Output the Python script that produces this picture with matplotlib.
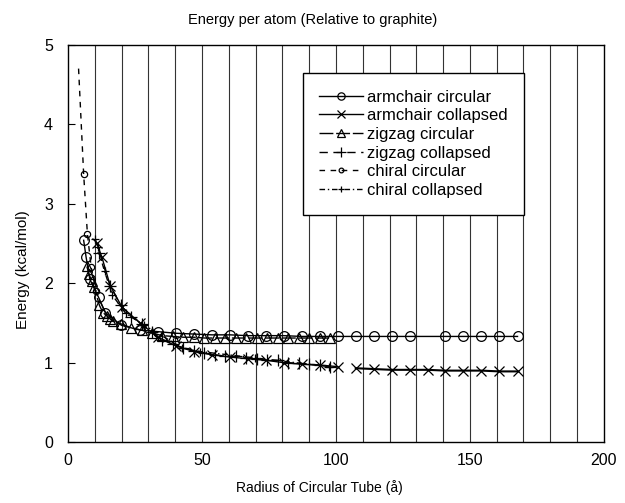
import numpy as np
import matplotlib
matplotlib.use('Agg')
import matplotlib.pyplot as plt

plt.rcParams['font.family'] = ['Liberation Sans', 'DejaVu Sans']

# armchair circular
ac_x = [5.8, 6.7, 8.1, 11.4, 13.9, 19.9, 26.8, 33.6, 40.3, 47.0, 53.7, 60.4, 67.1, 73.8,
        80.5, 87.2, 93.9, 100.7, 107.4, 114.1, 120.8, 127.5, 140.9, 147.6, 154.3, 161.0, 167.8]
ac_y = [2.54, 2.33, 2.05, 1.82, 1.63, 1.47, 1.41, 1.39, 1.37, 1.36, 1.35, 1.35, 1.34, 1.34,
        1.34, 1.33, 1.33, 1.33, 1.33, 1.33, 1.33, 1.33, 1.33, 1.33, 1.33, 1.33, 1.33]

# armchair collapsed
acol_x = [10.7, 12.6, 15.7, 20.1, 26.8, 33.6, 40.3, 47.0, 53.7, 60.4, 67.1, 73.8, 80.5,
          87.2, 93.9, 100.7]
acol_y = [2.50, 2.33, 1.97, 1.70, 1.50, 1.32, 1.21, 1.14, 1.10, 1.07, 1.05, 1.03, 1.00,
          0.98, 0.97, 0.95]
# armchair collapsed, larger radii (markers only)
acol_far_x = [107.4, 114.1, 120.8, 127.5, 134.2, 140.9, 147.6, 154.3, 161.0, 167.8]
acol_far_y = [0.93, 0.92, 0.91, 0.91, 0.91, 0.90, 0.90, 0.90, 0.89, 0.89]

# zigzag circular
zc_x = [7.0, 7.8, 8.8, 9.7, 11.7, 13.0, 14.4, 15.7, 16.8, 19.6, 23.5, 27.4, 31.3, 35.2,
        39.1, 43.0, 47.0, 50.9, 54.8, 58.7, 62.6, 66.5, 70.5, 74.4, 78.3, 82.2, 86.1,
        90.0, 94.0, 97.9]
zc_y = [2.21, 2.11, 2.03, 1.95, 1.72, 1.63, 1.59, 1.55, 1.52, 1.49, 1.44, 1.41, 1.37, 1.34,
        1.33, 1.32, 1.32, 1.31, 1.31, 1.31, 1.31, 1.31, 1.31, 1.31, 1.31, 1.31, 1.31,
        1.31, 1.31, 1.31]

# zigzag collapsed
zcol_x = [11.7, 15.7, 19.6, 23.5, 27.4, 31.3, 35.2, 39.1, 43.0, 47.0, 50.9, 54.8, 58.7,
          62.6, 66.5, 70.5, 74.4, 78.3, 82.2, 86.1, 90.0, 94.0, 97.9]
zcol_y = [2.38, 1.97, 1.72, 1.58, 1.49, 1.38, 1.29, 1.23, 1.19, 1.15, 1.12, 1.10, 1.08,
          1.08, 1.06, 1.05, 1.03, 1.03, 1.00, 0.99, 0.98, 0.97, 0.95]

# chiral circular
cc_x = [3.9, 5.8, 7.2, 8.6, 10.4]
cc_y = [4.70, 3.37, 2.62, 2.20, 1.90]

# chiral collapsed
ccol_x = [10.2, 11.0, 13.6, 16.5, 21.5, 28.5, 42.4, 49.3, 69.8, 97.5]
ccol_y = [2.55, 2.45, 2.15, 1.85, 1.62, 1.47, 1.19, 1.14, 1.06, 0.95]

fig = plt.figure(figsize=(6.25, 5.03), dpi=100)
ax = fig.add_axes([0.109, 0.121, 0.857, 0.790])

#vertical grid every 10
for gx in range(10, 200, 10):
    ax.axvline(gx, color='0.2', lw=0.8, zorder=0)

k = dict(color='black', mfc='none', mec='black', mew=0.9)
ax.plot(ac_x, ac_y, '-', marker='o', ms=7, lw=1.0, label='armchair circular', **k)
ax.plot(acol_x, acol_y, '-', marker='x', ms=7, lw=1.0, label='armchair collapsed', **k)
ax.plot(acol_far_x, acol_far_y, 'none', marker='x', ms=7, **k)
ax.plot(zc_x, zc_y, marker='^', ms=7, lw=1.0, dashes=(10, 2), label='zigzag circular', **k)
ax.plot(zcol_x, zcol_y, marker='+', ms=9, lw=1.0, dashes=(6, 4), label='zigzag collapsed', **k)
ax.plot(cc_x, cc_y, marker='o', ms=4.5, lw=1.0, dashes=(4, 4), markevery=[1, 2, 3, 4],
        label='chiral circular', **k)
ax.plot(ccol_x, ccol_y, marker='+', ms=6, lw=1.0, dashes=(4, 2, 1, 2),
        label='chiral collapsed', **k)

ax.set_xlim(0, 200)
ax.set_ylim(0, 5)
ax.set_xticks([0, 50, 100, 150, 200])
ax.set_yticks([0, 1, 2, 3, 4, 5])
ax.tick_params(axis='x', length=0, labelsize=11.5, pad=8)
ax.tick_params(axis='y', direction='in', length=5, labelsize=11.5, pad=11)
for s in ax.spines.values():
    s.set_linewidth(1.0)

ax.set_xlabel('Radius of Circular Tube (å)', fontsize=10, labelpad=9)
ax.xaxis.set_label_coords(0.47, -0.095)
ax.set_ylabel('Energy (kcal/mol)', fontsize=11, labelpad=10)
ax.yaxis.set_label_coords(-0.072, 0.433)
fig.text(0.5, 0.975, 'Energy per atom (Relative to graphite)', ha='center', va='top', fontsize=10.5)

leg = ax.legend(loc='upper left', bbox_to_anchor=(0.484, 0.855), bbox_transform=fig.transFigure,
                fontsize=12, frameon=True, fancybox=False, framealpha=1, edgecolor='black',
                handlelength=2.6, handletextpad=0.25, labelspacing=0.22, borderpad=1.0,
                borderaxespad=0, markerscale=0.75)
leg.get_frame().set_linewidth(1.0)

fig.savefig('out.png', dpi=100)
